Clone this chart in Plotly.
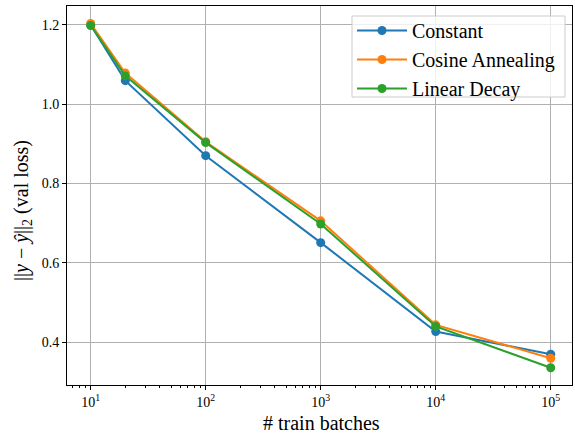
import plotly.graph_objects as go

train_batches = [10, 20, 100, 1000, 10000, 100000]
constant = [1.199, 1.059, 0.870, 0.651, 0.427, 0.370]
cosine = [1.203, 1.078, 0.905, 0.706, 0.444, 0.360]
linear = [1.198, 1.071, 0.903, 0.698, 0.440, 0.336]
series_names = ["Constant", "Cosine Annealing", "Linear Decay"]
colors = ["#1f77b4", "#ff7f0e", "#2ca02c"]
x_tick_vals = [10, 100, 1000, 10000, 100000]
x_tick_text = ["10<sup>1</sup>", "10<sup>2</sup>", "10<sup>3</sup>", "10<sup>4</sup>", "10<sup>5</sup>"]
y_tick_vals = [0.4, 0.6, 0.8, 1.0, 1.2]
minor_vals = [k * 10 ** e for e in range(0, 6) for k in range(2, 10)]

fig = go.Figure()
for name, ys, c in zip(series_names, [constant, cosine, linear], colors):
    fig.add_trace(go.Scatter(x=train_batches, y=ys, name=name, mode="lines+markers",
                             line=dict(color=c, width=2),
                             marker=dict(color=c, size=9)))

font = "Liberation Serif, Times New Roman, serif"
L, R, T, B = 67, 3, 6, 49
W, H = 575, 434
pw, ph = W - L - R, H - T - B


def px_x(p):
    return (p - L) / pw


def px_y(p):
    return 1 - (p - T) / ph


fig.update_layout(
    width=W, height=H,
    margin=dict(l=L, r=R, t=T, b=B),
    paper_bgcolor="white", plot_bgcolor="white",
    font=dict(family=font, color="black", size=14),
    showlegend=True,
    legend=dict(x=px_x(352), y=px_y(11), xanchor="left", yanchor="top",
                bgcolor="rgba(0,0,0,0)", borderwidth=0,
                font=dict(size=20, family=font), itemwidth=50,
                tracegroupgap=0),
    shapes=[
        dict(type="rect", xref="paper", yref="paper", layer="above",
             x0=px_x(352), x1=px_x(565), y0=px_y(97), y1=px_y(16),
             fillcolor="rgba(255,255,255,0.8)", line=dict(color="#cccccc", width=1)),
    ],
    annotations=[
        dict(text="# train batches", xref="paper", yref="paper",
             x=px_x(321), y=px_y(423), xanchor="center", yanchor="middle",
             showarrow=False, font=dict(size=20, family=font)),
        dict(text="||<i>y</i> − <i>ŷ</i>||<sub>2</sub> (val loss)", xref="paper", yref="paper",
             x=px_x(22), y=px_y(211), xanchor="center", yanchor="middle",
             textangle=-90, showarrow=False, font=dict(size=20, family=font)),
    ],
)
fig.update_xaxes(
    type="log", range=[0.794, 5.185],
    tickvals=x_tick_vals, ticktext=x_tick_text,
    showgrid=True, gridcolor="#b0b0b0", gridwidth=1,
    showline=True, linecolor="black", linewidth=1, mirror=True,
    ticks="outside", ticklen=4, tickcolor="black",
    minor=dict(ticks="outside", ticklen=2, tickcolor="black", showgrid=False, tickvals=minor_vals),
    tickfont=dict(size=14),
    zeroline=False,
)
fig.update_yaxes(
    range=[0.2925, 1.247],
    tickvals=y_tick_vals, tickformat=".1f",
    showgrid=True, gridcolor="#b0b0b0", gridwidth=1,
    showline=True, linecolor="black", linewidth=1, mirror=True,
    ticks="outside", ticklen=4, tickcolor="black",
    tickfont=dict(size=14),
    zeroline=False,
)
fig.write_html("out.html", config={"displayModeBar": False},
               post_script="document.body.style.margin='0';")
